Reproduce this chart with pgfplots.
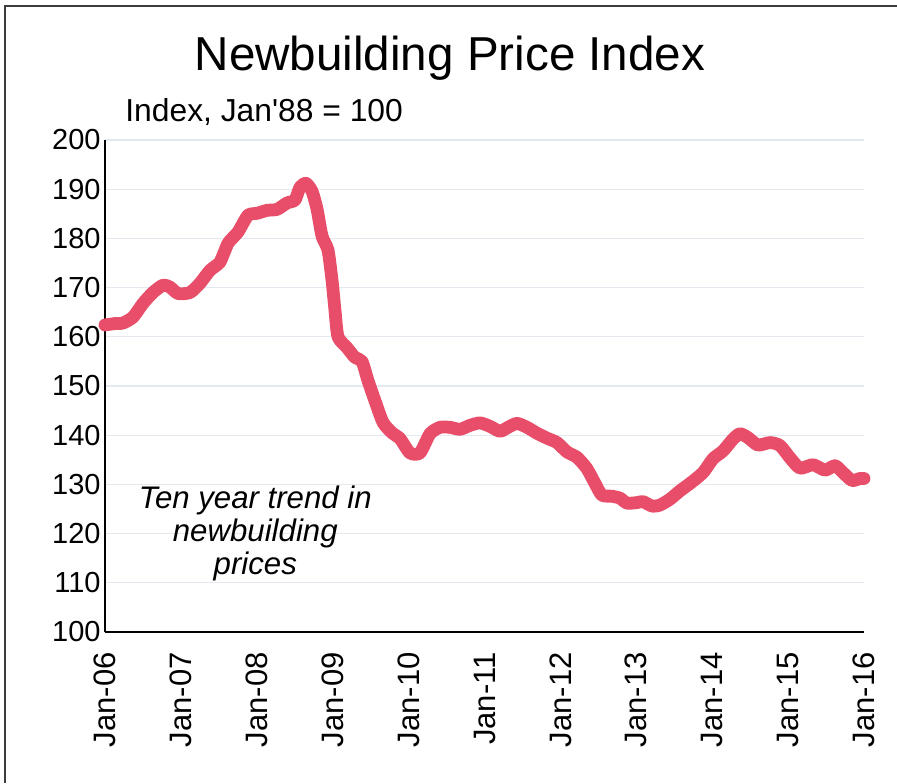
\documentclass[border=0pt]{standalone}
\usepackage{pgfplots}
\pgfplotsset{compat=1.18}
\usepackage{fontspec}
\setmainfont{Liberation Sans}
\newfontfamily\plainsans{Liberation Sans}[Ligatures=TeXOff]
\definecolor{linered}{RGB}{232,78,106}
\definecolor{gridc}{RGB}{228,233,240}
\definecolor{framec}{RGB}{60,60,60}
\pgfplotstableread{
x y
0.000 162.4
0.132 162.7
0.237 162.8
0.369 164.0
0.501 166.8
0.632 169.0
0.764 170.5
0.856 170.1
0.962 168.8
1.120 169.0
1.252 170.9
1.383 173.5
1.515 175.2
1.621 179.0
1.752 181.3
1.884 184.7
2.003 185.1
2.134 185.7
2.266 185.9
2.398 187.2
2.503 187.8
2.569 190.4
2.648 191.2
2.727 189.6
2.793 186.0
2.859 180.5
2.938 177.6
2.991 171.5
3.030 165.4
3.070 160.0
3.188 157.8
3.294 155.8
3.386 155.0
3.465 151.1
3.557 147.0
3.663 142.6
3.781 140.5
3.887 139.3
4.018 136.4
4.150 136.4
4.282 140.3
4.414 141.6
4.545 141.6
4.677 141.2
4.809 142.0
4.941 142.5
5.072 141.8
5.204 140.8
5.310 141.6
5.428 142.4
5.560 141.6
5.692 140.4
5.823 139.4
5.955 138.5
6.087 136.6
6.219 135.5
6.350 133.2
6.456 130.2
6.548 127.8
6.680 127.6
6.785 127.2
6.877 126.2
7.009 126.3
7.088 126.5
7.207 125.6
7.312 125.8
7.444 127.0
7.576 128.7
7.708 130.2
7.879 132.4
8.010 135.2
8.142 136.8
8.274 139.2
8.366 140.3
8.472 139.5
8.603 138.0
8.762 138.5
8.893 137.9
9.025 135.4
9.157 133.3
9.328 134.0
9.486 132.9
9.618 133.8
9.723 132.4
9.842 130.8
9.947 131.2
10.000 131.2
}\pricedata
\begin{document}
\begin{tikzpicture}
\useasboundingbox (0,0) rectangle (448.5pt,391.5pt);
\draw[framec, line width=1pt] (2.5pt,0) -- (2.5pt,388.5pt) -- (448.5pt,388.5pt);
\begin{axis}[
  at={(52.5pt,75.5pt)}, anchor=south west,
  scale only axis, width=379.5pt, height=246pt,
  xmin=0, xmax=10, ymin=100, ymax=200,
  axis lines=left, axis line style={black, line width=1.3pt, -},
  xtick={0,...,10},
  xticklabels={Jan-06,Jan-07,Jan-08,Jan-09,Jan-10,Jan-11,Jan-12,Jan-13,Jan-14,Jan-15,Jan-16},
  ytick={100,110,...,200},
  major tick length=0pt,
  ymajorgrids, grid style={gridc, line width=0.6pt},
  /pgf/number format/assume math mode=true,
  yticklabel style={font=\fontsize{14.5}{16}\selectfont, anchor=east, inner sep=0pt, xshift=-2pt},
  xticklabel style={font=\fontsize{15.5}{18}\selectfont, rotate=90, anchor=east, inner sep=0pt},
  xticklabel shift=10pt,
  clip=false,
]
\addplot[linered, line width=6.4pt, line cap=round, line join=round, smooth, tension=0.4] table[x=x,y=y] {\pricedata};
\node[font=\fontsize{15.6}{16.5}\selectfont\itshape, align=center] at (axis cs:1.98,120) {Ten year trend in\\newbuilding\\prices};
\end{axis}
\node[font=\fontsize{23.8}{26}\selectfont] at (225pt,362.5pt) {Newbuilding Price Index};
\node[font=\plainsans\fontsize{15.9}{18}\selectfont, anchor=west, inner sep=0pt] at (62.5pt,335.5pt) {Index, Jan'88 = 100};
\end{tikzpicture}
\end{document}
